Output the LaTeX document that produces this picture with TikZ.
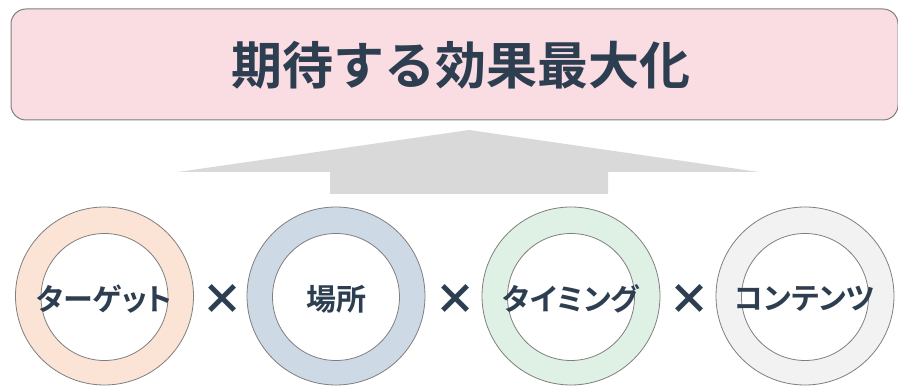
\documentclass[tikz,border=0pt]{standalone}
\usepackage{fontspec}
\newfontfamily\jpfont{Noto Sans CJK JP}[BoldFont={* Bold}]
\newfontfamily\jplbl{Noto Sans CJK JP}[BoldFont={* Bold},RawFeature=+palt]
\newfontfamily\jpblack{Noto Sans CJK JP}[UprightFont={* Black}]
\definecolor{navy}{HTML}{2D3E50}
\definecolor{pinkbg}{HTML}{FADCE3}
\definecolor{edge}{HTML}{7F7F7F}
\definecolor{arrowgray}{HTML}{D9D9D9}
\definecolor{c1}{HTML}{FBE4D5}
\definecolor{c2}{HTML}{CDD9E5}
\definecolor{c3}{HTML}{DFF0E5}
\definecolor{c4}{HTML}{F2F2F2}
\begin{document}
\begin{tikzpicture}[x=1pt,y=-1pt,
  ring/.style={circle,draw=edge,line width=0.8pt,minimum size=178pt,inner sep=0pt},
  hole/.style={circle,draw=edge,line width=0.8pt,fill=white,minimum size=127pt,inner sep=0pt},
  lbl/.style={font=\jplbl\bfseries\fontsize{30}{30}\selectfont,text=navy,inner sep=0pt},
  times/.style={font=\jpblack\fontsize{42}{42}\selectfont,text=navy,inner sep=0pt}]
\useasboundingbox (0,0) rectangle (898,387);
\node[draw=edge,line width=1pt,fill=pinkbg,rounded corners=15pt,minimum width=887pt,minimum height=111pt,anchor=north west] (top) at (10.5,8.5) {};
\node[font=\jpfont\bfseries\fontsize{51}{51}\selectfont,text=navy,inner sep=0pt] (title) at (461,65) {期待する効果最大化};
\fill[arrowgray] (469,130) -- (759,172) -- (608,172) -- (608,194) -- (330,194) -- (330,172) -- (178,172) -- cycle;
\foreach \n/\x/\c/\t in {1/104.5/c1/ターゲット,2/336/c2/場所,3/571/c3/タイミング,4/805/c4/コンテンツ}{
  \node[ring,fill=\c] (r\n) at (\x,296) {};
  \node[hole] (h\n) at (\x,297) {};
  \node[lbl] (t\n) at (\x,299) {\t};
}
\node[times] (x1) at (222,299) {×};
\node[times] (x2) at (455,299) {×};
\node[times] (x3) at (689,299) {×};
\end{tikzpicture}
\end{document}
